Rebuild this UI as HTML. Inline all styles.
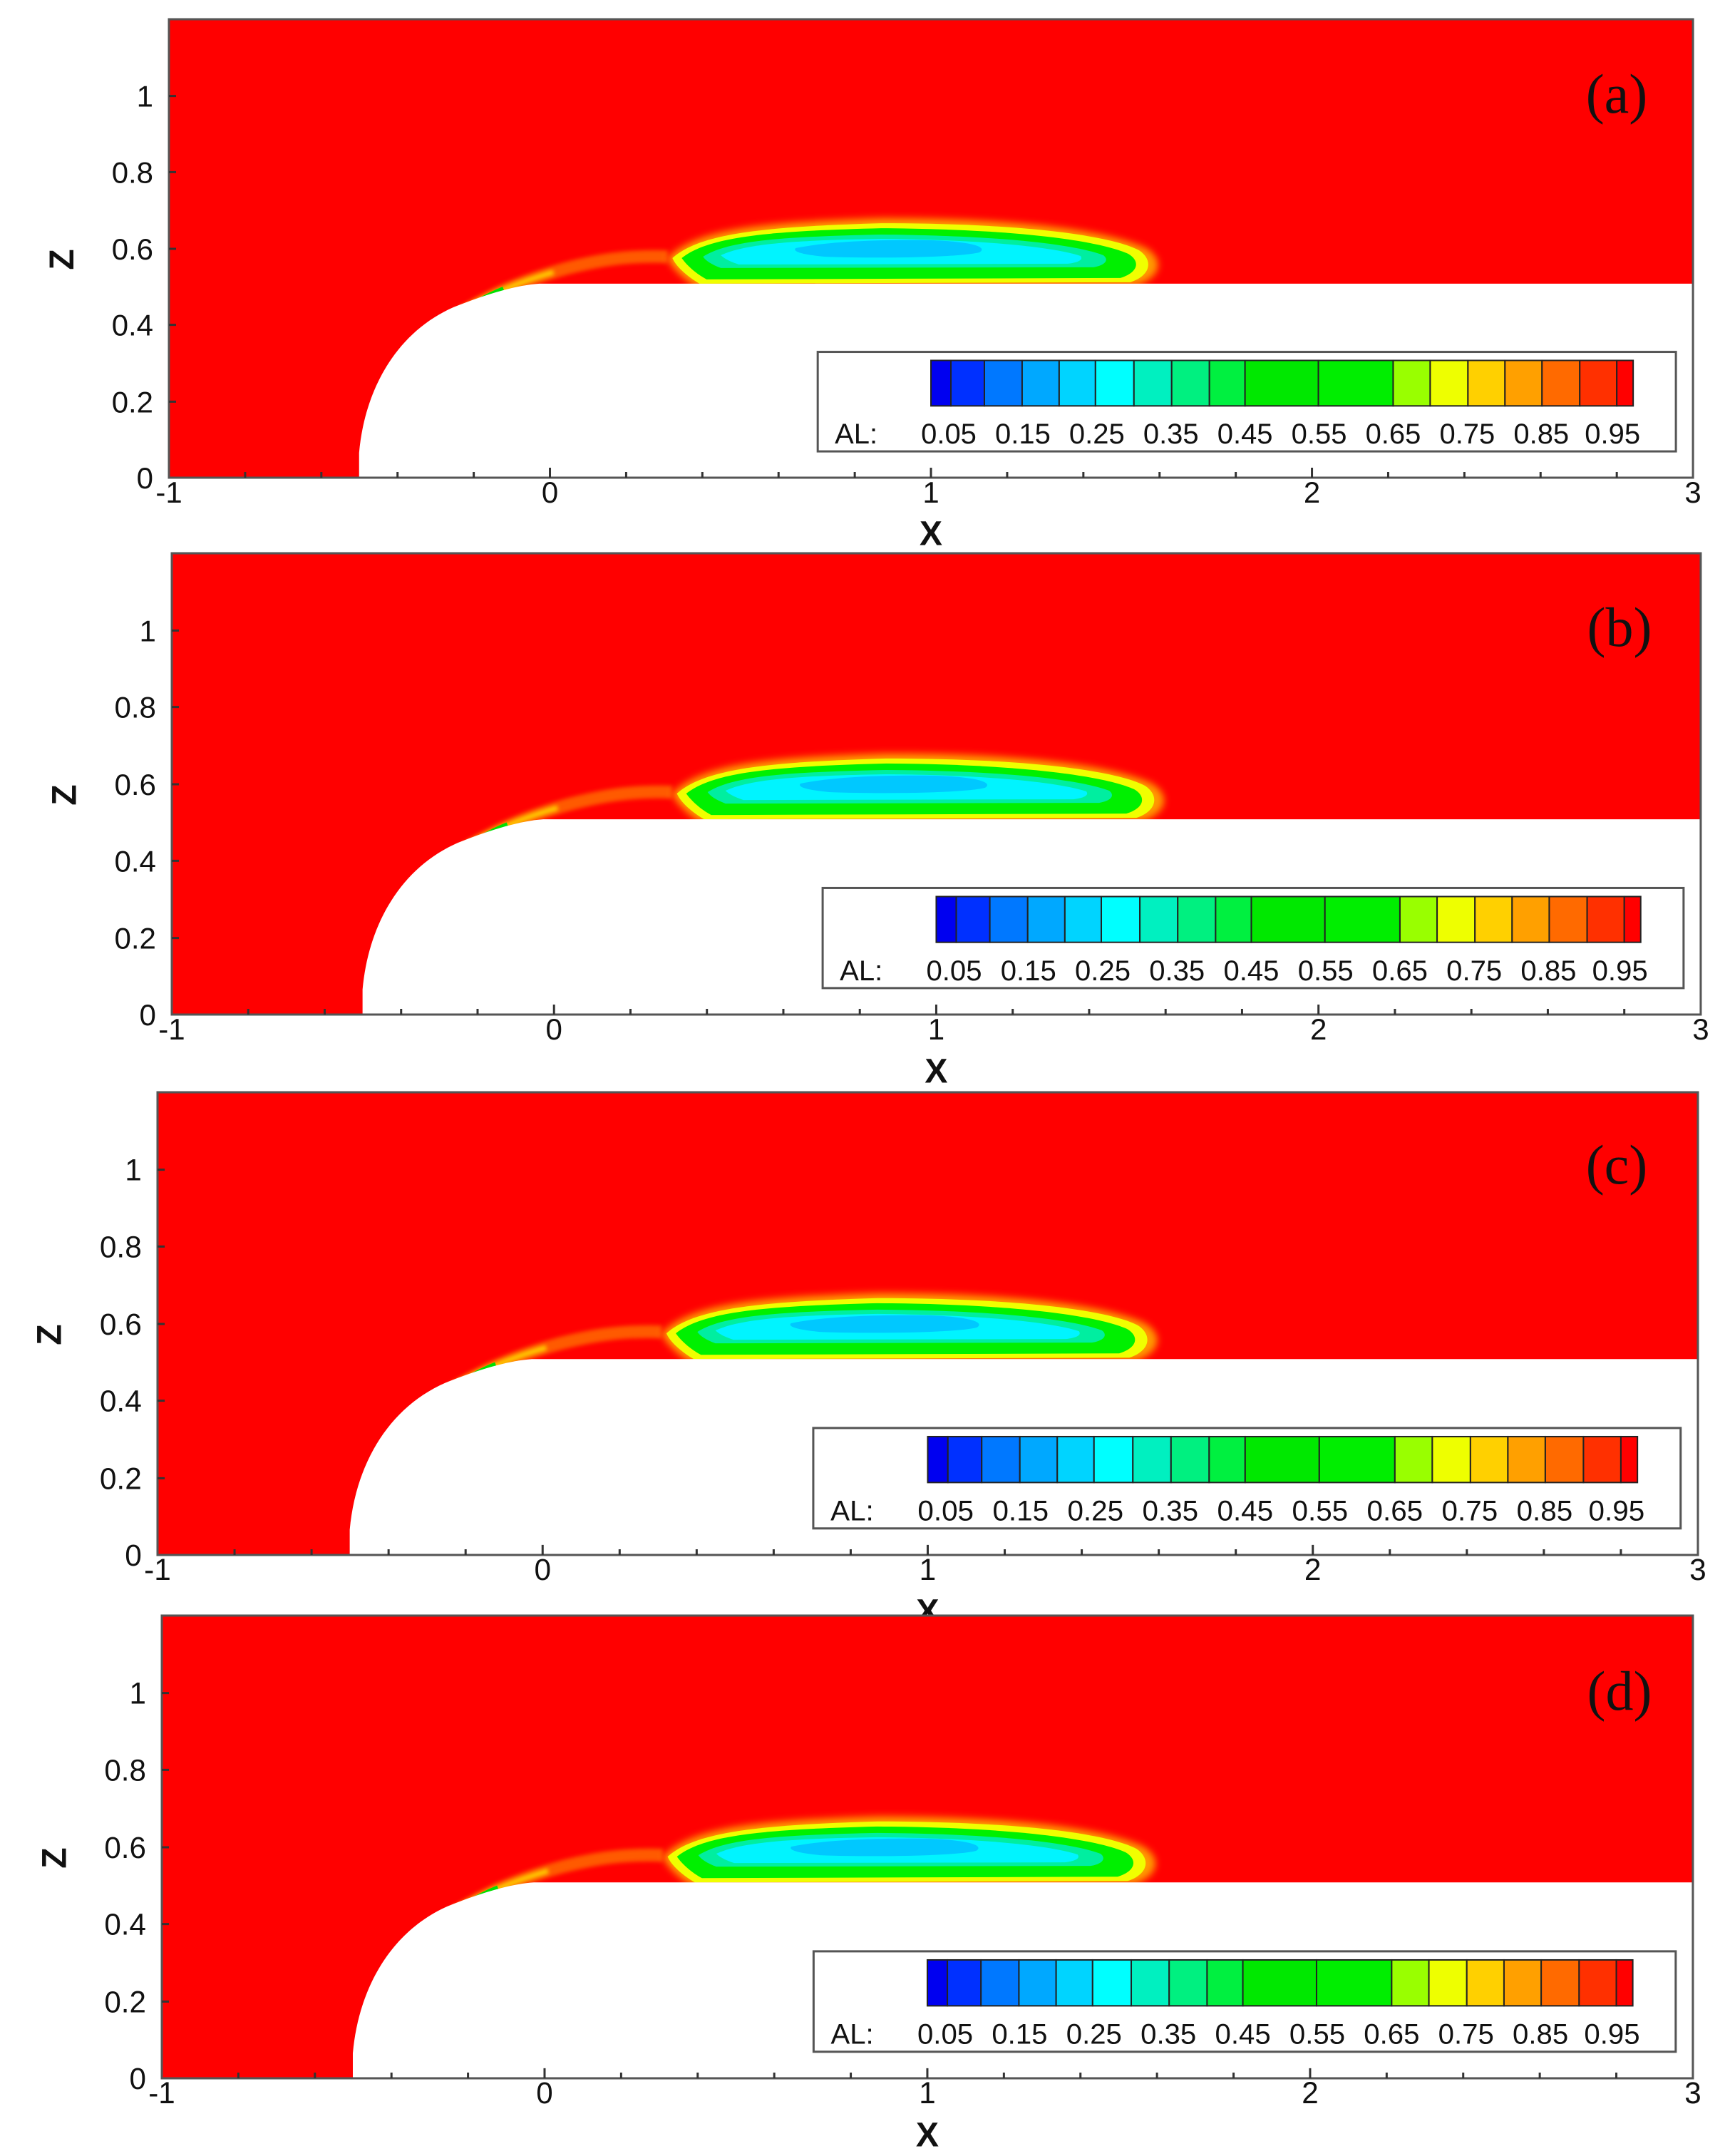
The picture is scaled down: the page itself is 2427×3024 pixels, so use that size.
<!DOCTYPE html>
<html><head><meta charset="utf-8"><style>html,body{margin:0;padding:0;background:#fff}svg{display:block}</style></head>
<body>
<svg width="2427" height="3024" viewBox="0 0 2427 3024" xmlns="http://www.w3.org/2000/svg" font-family="Liberation Sans, Arial, sans-serif">
<defs>
<filter id="bl" x="-10%" y="-30%" width="120%" height="160%"><feGaussianBlur stdDeviation="5"/></filter>
<filter id="bl2" x="-10%" y="-30%" width="120%" height="160%"><feGaussianBlur stdDeviation="3"/></filter>
<g id="field">
  <rect x="0" y="0" width="2140" height="645" fill="#ff0000"/>
  <path d="M400,420 C440,395 480,372 560,350 C600,340 640,332 700,334" stroke="#ff5a00" stroke-width="18" fill="none" filter="url(#bl2)"/>
  <path d="M410,410 C450,388 490,370 540,356" stroke="#ffd000" stroke-width="7" fill="none" filter="url(#bl2)"/>
  <path d="M380,440 C410,410 440,392 470,380" stroke="#00e000" stroke-width="8" fill="none"/>
  <path d="M385,436 C405,414 420,402 440,392" stroke="#0090ff" stroke-width="4" fill="none"/>
  <!-- bubble -->
  <path d="M700,336 C740,296 820,286 1000,280 C1200,280 1320,298 1372,322 C1398,338 1394,362 1360,374 L740,376 C720,364 705,348 700,336Z" fill="#ff9a00" filter="url(#bl)"/>
  <path d="M707,336 C745,302 830,292 1000,287 C1190,287 1320,303 1362,325 C1382,338 1380,360 1350,370 L745,372 C728,362 712,348 707,336Z" fill="#f0ff00"/>
  <path d="M720,336 C758,306 840,298 1000,294 C1180,295 1302,310 1347,330 C1364,340 1362,356 1336,364 L755,366 C740,358 727,346 720,336Z" fill="#00f000"/>
  <path d="M750,334 C785,312 855,306 1000,303 C1160,304 1270,316 1312,332 C1320,338 1316,346 1298,349 L775,350 C762,345 754,340 750,334Z" fill="#00eea0"/>
  <path d="M775,332 C810,316 875,311 1000,309 C1140,310 1240,320 1280,333 C1284,338 1278,342 1262,344 L800,345 C788,341 780,337 775,332Z" fill="#00f4ff"/>
  <path d="M880,322 C930,312 1000,310 1070,311 C1130,313 1150,321 1138,328 C1110,335 1000,337 920,334 C890,331 875,327 880,322Z" fill="#00c8ff"/>
  <path d="M267,645 L267,610 C275,520 320,440 400,405 C450,385 490,374 520,372 L2140,372 L2140,645Z" fill="#fff"/>
  <rect x="0" y="0" width="2140" height="645" fill="none" stroke="#555" stroke-width="3"/>
  <path d="M535,645v-14M1070,645v-14M1605,645v-14M107,645v-8M214,645v-8M321,645v-8M428,645v-8M642,645v-8M749,645v-8M856,645v-8M963,645v-8M1177,645v-8M1284,645v-8M1391,645v-8M1498,645v-8M1712,645v-8M1819,645v-8M1926,645v-8M2033,645v-8" stroke="#333" stroke-width="3"/>
  <path d="M0,538h10M0,430h10M0,323h10M0,215h10M0,108h10" stroke="#333" stroke-width="3"/>
  <rect x="911" y="468" width="1205" height="140" fill="#fff" stroke="#555" stroke-width="3"/>
  <g stroke="#222" stroke-width="2">
    <rect x="1070" y="480" width="28" height="64" fill="#0000f0"/>
    <rect x="1098" y="480" width="47" height="64" fill="#0030ff"/>
    <rect x="1145" y="480" width="53" height="64" fill="#0078ff"/>
    <rect x="1198" y="480" width="52" height="64" fill="#00a8ff"/>
    <rect x="1250" y="480" width="51" height="64" fill="#00d4ff"/>
    <rect x="1301" y="480" width="54" height="64" fill="#00ffff"/>
    <rect x="1355" y="480" width="53" height="64" fill="#00f0c0"/>
    <rect x="1408" y="480" width="53" height="64" fill="#00f080"/>
    <rect x="1461" y="480" width="50" height="64" fill="#00f040"/>
    <rect x="1511" y="480" width="103" height="64" fill="#00e800"/>
    <rect x="1614" y="480" width="105" height="64" fill="#00ee00"/>
    <rect x="1719" y="480" width="52" height="64" fill="#99ff00"/>
    <rect x="1771" y="480" width="53" height="64" fill="#eeff00"/>
    <rect x="1824" y="480" width="52" height="64" fill="#ffd000"/>
    <rect x="1876" y="480" width="52" height="64" fill="#ffa000"/>
    <rect x="1928" y="480" width="53" height="64" fill="#ff6a00"/>
    <rect x="1981" y="480" width="52" height="64" fill="#ff3000"/>
    <rect x="2033" y="480" width="23" height="64" fill="#ff0000"/>
  </g>
  <g font-size="40" fill="#111" text-anchor="middle">
    <text x="965" y="597">AL:</text>
    <text x="1095" y="597">0.05</text><text x="1199" y="597">0.15</text><text x="1303" y="597">0.25</text>
    <text x="1407" y="597">0.35</text><text x="1511" y="597">0.45</text><text x="1615" y="597">0.55</text>
    <text x="1719" y="597">0.65</text><text x="1823" y="597">0.75</text><text x="1927" y="597">0.85</text>
    <text x="2027" y="597">0.95</text>
  </g>
  <g font-size="42" fill="#111" text-anchor="end">
    <text x="-22" y="660">0</text><text x="-22" y="553">0.2</text><text x="-22" y="445">0.4</text>
    <text x="-22" y="338">0.6</text><text x="-22" y="230">0.8</text><text x="-22" y="123">1</text>
  </g>
  <g font-size="42" fill="#111" text-anchor="middle">
    <text x="0" y="680">-1</text><text x="535" y="680">0</text><text x="1070" y="680">1</text>
    <text x="1605" y="680">2</text><text x="2140" y="680">3</text>
  </g>
  <text x="1070" y="740" font-size="48" font-weight="bold" text-anchor="middle" fill="#111">X</text>
  <text x="-150" y="338" font-size="48" font-weight="bold" text-anchor="middle" fill="#111" transform="rotate(-90 -150 338)" dy="16">Z</text>
</g>
</defs>
<use href="#field" transform="translate(237,27) scale(0.9991,0.9969)"/>
<text x="2268" y="158" font-family="Liberation Serif, serif" font-size="78" text-anchor="middle" fill="#111">(a)</text>
<use href="#field" transform="translate(241,776) scale(1.0023,1.0031)"/>
<text x="2272" y="906" font-family="Liberation Serif, serif" font-size="78" text-anchor="middle" fill="#111">(b)</text>
<use href="#field" transform="translate(221,1532) scale(1.0098,1.0062)"/>
<text x="2268" y="1660" font-family="Liberation Serif, serif" font-size="78" text-anchor="middle" fill="#111">(c)</text>
<use href="#field" transform="translate(227,2266) scale(1.0037,1.0062)"/>
<text x="2272" y="2398" font-family="Liberation Serif, serif" font-size="78" text-anchor="middle" fill="#111">(d)</text>
</svg>
</body></html>
